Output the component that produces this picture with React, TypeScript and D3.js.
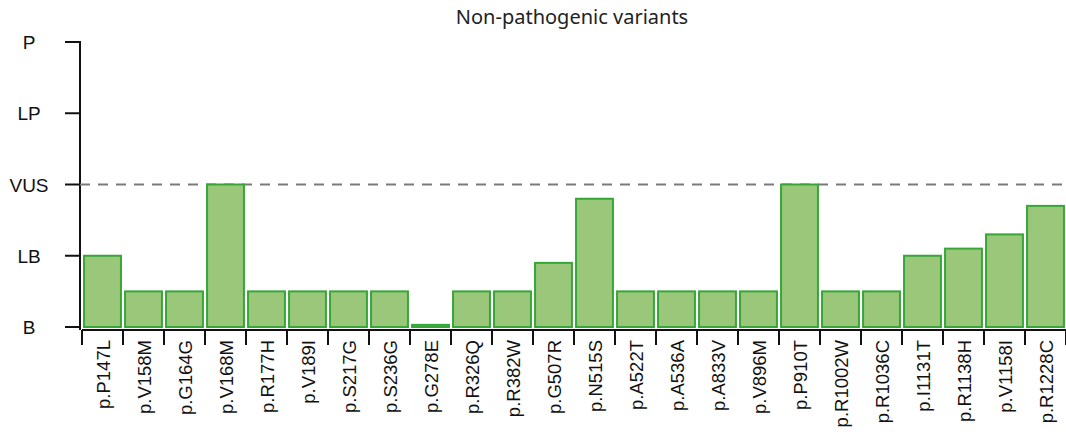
import React from "react";
import * as d3 from "d3";

const variants = [
  "p.P147L", "p.V158M", "p.G164G", "p.V168M", "p.R177H", "p.V189I",
  "p.S217G", "p.S236G", "p.G278E", "p.R326Q", "p.R382W", "p.G507R",
  "p.N515S", "p.A522T", "p.A536A", "p.A833V", "p.V896M", "p.P910T",
  "p.R1002W", "p.R1036C", "p.I1131T", "p.R1138H", "p.V1158I", "p.R1228C",
];
const scores = [
  1.0, 0.5, 0.5, 2.0, 0.5, 0.5,
  0.5, 0.5, 0.03, 0.5, 0.5, 0.9,
  1.8, 0.5, 0.5, 0.5, 0.5, 2.0,
  0.5, 0.5, 1.0, 1.1, 1.3, 1.7,
];
const levels = ["B", "LB", "VUS", "LP", "P"];
const vusLevel = 2;

const size = { width: 1066, height: 432 };
const plot = { left: 82, right: 1066, top: 42, bottom: 327, axisY: 330 };

const labelFont = "'Liberation Sans', Arial, sans-serif";

export default function App() {
  const x = d3
    .scaleBand()
    .domain(variants)
    .range([plot.left, plot.right])
    .paddingInner(0.1)
    .paddingOuter(0.05);

  const y = d3
    .scaleLinear()
    .domain([0, levels.length - 1])
    .range([plot.bottom, plot.top]);

  const step = x.step();
  const start = plot.left;

  const bars = variants.map((v, i) => {
    const top = y(scores[i]);
    return (
      <rect
        key={`bar${i}`}
        x={x(v)}
        y={top}
        width={x.bandwidth()}
        height={Math.max(plot.bottom - top, 0.5)}
        fill="#9bc77a"
        stroke="#36a737"
        strokeWidth={2}
      />
    );
  });

  const boundaries = d3.range(variants.length + 1).map((i) => start + i * step);

  return (
    <svg
      width={size.width}
      height={size.height}
      style={{ position: "absolute", left: 0, top: 0, background: "white" }}
    >
      <text
        x={572}
        y={24}
        textAnchor="middle"
        fontFamily="'Noto Sans', 'Open Sans', sans-serif"
        fontSize={20}
        fill="#222"
      >
        Non-pathogenic variants
      </text>

      {/* y axis */}
      <line x1={80} x2={80} y1={y(4) - 1} y2={plot.axisY} stroke="#111" strokeWidth={2} />
      {levels.map((l, i) => (
        <g key={l}>
          <line x1={65} x2={80} y1={y(i)} y2={y(i)} stroke="#111" strokeWidth={2} />
          <text
            x={29}
            y={y(i) + 7}
            textAnchor="middle"
            fontFamily={labelFont}
            fontSize={19}
            fill="#111"
          >
            {l}
          </text>
        </g>
      ))}

      {/* VUS threshold */}
      <line
        x1={80}
        x2={size.width}
        y1={y(vusLevel)}
        y2={y(vusLevel)}
        stroke="#7a7a7a"
        strokeWidth={2}
        strokeDasharray="10,8"
      />

      {bars}

      {/* x axis */}
      <line x1={plot.left} x2={plot.right} y1={plot.axisY} y2={plot.axisY} stroke="#111" strokeWidth={2} />
      {boundaries.map((bx, i) => (
        <line key={`t${i}`} x1={bx} x2={bx} y1={plot.axisY} y2={345} stroke="#111" strokeWidth={2} />
      ))}
      {variants.map((v) => {
        const cx = (x(v) as number) + x.bandwidth() / 2;
        return (
          <text
            key={v}
            transform={`translate(${cx + 7},340) rotate(-90)`}
            textAnchor="end"
            fontFamily={labelFont}
            fontSize={18.5}
            fill="#111"
          >
            {v}
          </text>
        );
      })}
    </svg>
  );
}
